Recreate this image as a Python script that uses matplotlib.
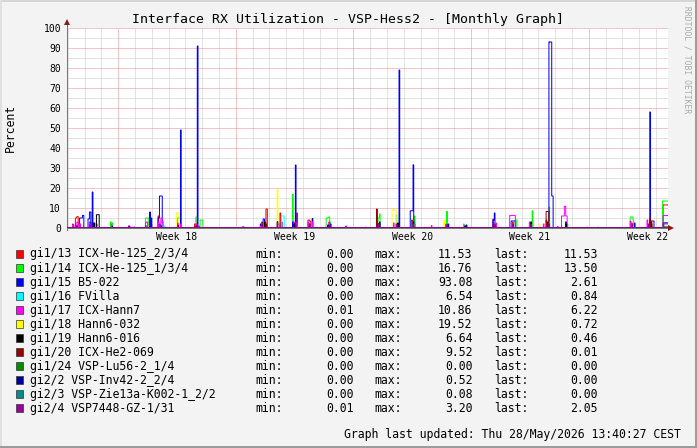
import numpy as np
import matplotlib
matplotlib.use('Agg')
import matplotlib.pyplot as plt
from matplotlib.patches import Rectangle
from matplotlib.lines import Line2D

# ---------------- data ----------------
title = "Interface RX Utilization - VSP-Hess2 - [Monthly Graph]"
y_label = "Percent"
updated = "Graph last updated: Thu 28/May/2026 13:40:27 CEST"

t_end_h = 858            # graph span in hours
step_h = 1               # sample step (hours)
week_start_h = [73, 241, 409, 577, 745]
week_labels = ["Week 18", "Week 19", "Week 20", "Week 21", "Week 22"]
day_lines_h = [1 + 24 * k for k in range(36)]
y_major = list(range(0, 101, 10))
y_minor = list(range(5, 100, 10))

names = ["gi1/13 ICX-He-125_2/3/4", "gi1/14 ICX-He-125_1/3/4", "gi1/15 B5-022",
         "gi1/16 FVilla", "gi1/17 ICX-Hann7", "gi1/18 Hann6-032", "gi1/19 Hann6-016",
         "gi1/20 ICX-He2-069", "gi1/24 VSP-Lu56-2_1/4", "gi2/2 VSP-Inv42-2_2/4",
         "gi2/3 VSP-Zie13a-K002-1_2/2", "gi2/4 VSP7448-GZ-1/31"]
colors = ["#FF0000", "#00FF00", "#0000FF", "#00FFFF", "#FF00FF", "#FFFF00",
          "#000000", "#960000", "#008C00", "#000096", "#008C8C", "#960096"]
min_vals = [0.00, 0.00, 0.00, 0.00, 0.01, 0.00, 0.00, 0.00, 0.00, 0.00, 0.00, 0.01]
max_vals = [11.53, 16.76, 93.08, 6.54, 10.86, 19.52, 6.64, 9.52, 0.00, 0.52, 0.08, 3.20]
last_vals = [11.53, 13.50, 2.61, 0.84, 6.22, 0.72, 0.46, 0.01, 0.00, 0.00, 0.00, 2.05]

# samples that differ from the baseline: hour and value
red_h = [8, 12, 13, 14, 15, 18, 32, 33, 36, 42, 62, 63, 64, 118, 119, 120, 130, 182, 183,
         184, 185, 278, 284, 285, 304, 328, 344, 345, 346, 347, 374, 446, 470, 492, 496,
         542, 566, 608, 636, 662, 684, 712, 806, 834, 851, 852, 853, 854, 855, 856, 857]
red_v = [2, 5, 5, 5.7, 5.7, 2, 3, 3, 2.5, 2, 2, 2, 1, 3, 3, 2, 6, 2, 2,
         2, 2, 3, 9.5, 9.5, 7.5, 7.5, 4, 4, 3.5, 3.5, 3, 3, 2, 4, 2,
         2.5, 1.5, 4.5, 3, 3, 4, 3, 2.5, 3, 11.53, 11.53, 11.53, 11.53, 11.53, 11.53, 11.53]

green_h = [14, 38, 62, 63, 64, 112, 113, 114, 115, 118, 136, 158, 159, 160, 161, 184, 185,
           190, 191, 192, 193, 300, 322, 370, 371, 372, 373, 374, 375, 426, 444, 445, 446,
           496, 542, 566, 612, 640, 641, 664, 688, 714, 804, 805, 806, 807, 808,
           850, 851, 852, 853, 854, 855, 856, 857]
green_v = [1, 2, 3, 3, 2.5, 5, 5, 5, 5, 3, 3.5, 5, 5, 5, 5, 5.5, 5.5,
           4, 4, 4, 4, 3, 16.76, 5, 5, 5, 5.5, 5.5, 3, 0.5, 5, 5, 7,
           6, 8.3, 2, 2, 4, 4, 8.6, 10.5, 2, 5.5, 5.5, 5.5, 5.5, 4,
           13.5, 13.5, 13.5, 13.5, 13.5, 13.5, 13.5, 13.5]

blue_h = [18, 19, 20, 21, 22, 23, 30, 31, 32, 33, 36, 38, 64, 118, 120, 130, 131, 132, 133,
          134, 135, 162, 186, 276, 280, 281, 306, 322, 326, 350, 376, 398, 446, 474, 490,
          491, 492, 493, 494, 544, 570, 608, 609, 610, 634, 635, 636, 637, 638, 639, 662,
          688, 689, 690, 691, 692, 693, 712, 810, 832, 834, 835, 836, 837,
          851, 852, 853, 854, 855, 856, 857]
blue_v = [5, 5, 5, 5, 6.3, 6.3, 4.5, 4.5, 8, 8, 18, 2, 1, 8, 5, 5, 5, 16, 16,
          16, 16, 49, 91, 2, 4.5, 4.5, 3, 3, 31.5, 4.7, 2, 0.5, 3, 79, 8.6,
          8.6, 8.6, 8.6, 31.6, 2, 1.5, 4, 4, 7.5, 3.5, 3.5, 3.5, 3.5, 3.5, 3.5, 3,
          93.08, 93, 93, 93, 16, 16, 3, 2.5, 58, 3.5, 3.5, 3.5, 3.5,
          2.61, 2.61, 2.61, 2.61, 2.61, 2.61, 2.61]

cyan_h = [14, 42, 136, 137, 138, 160, 306, 307, 308, 309, 326, 346, 470, 494, 542, 612,
          662, 688, 742, 758, 852, 853, 854, 855, 856, 857]
cyan_v = [1, 1, 2, 2, 1, 2, 6, 6, 6, 6, 1, 1, 6.54, 2, 1, 1,
          1, 3, 0.5, 0.5, 0.84, 0.84, 0.84, 0.84, 0.84, 0.84]

magenta_h = [8, 9, 14, 15, 18, 32, 38, 39, 88, 89, 96, 112, 113, 114, 130, 134, 135, 136,
             158, 162, 184, 188, 276, 282, 300, 301, 302, 324, 328, 344, 350, 374, 398, 444,
             466, 492, 520, 540, 568, 612, 632, 633, 634, 635, 636, 637, 638, 639, 660, 680,
             700, 706, 707, 708, 709, 710, 711, 712, 713, 804, 828,
             851, 852, 853, 854, 855, 856, 857]
magenta_v = [1.5, 1.5, 3, 3, 2, 2, 2.5, 2.5, 1, 1, 0.5, 2.5, 3, 3, 3, 5, 5, 3,
             2.5, 2, 2, 1, 1, 2.5, 2, 2, 2, 3, 2.5, 3, 3, 3, 1, 2,
             2.5, 3, 1.2, 2, 1, 2.5, 6.3, 6.3, 6.3, 6.3, 6.3, 6.3, 6.3, 6.3, 3, 2,
             0.8, 6, 6, 6, 6, 10.86, 10.86, 6, 6, 3.5, 4,
             6.22, 6.22, 6.22, 6.22, 6.22, 6.22, 6.22]

yellow_h = [156, 157, 158, 159, 300, 346, 464, 465, 466, 467, 468, 469, 494, 538, 636, 674,
            686, 852, 853, 854, 855, 856, 857]
yellow_v = [7.5, 7.5, 7.5, 7.5, 19.52, 2, 9, 9, 9, 9, 9, 9, 2, 4, 2, 2,
            2, 0.72, 0.72, 0.72, 0.72, 0.72, 0.72]

black_h = [14, 38, 42, 43, 44, 45, 134, 184, 282, 324, 346, 372, 444, 472, 494, 542, 568,
           610, 636, 662, 686, 712, 806, 834, 852, 853, 854, 855, 856, 857]
black_v = [1, 2.5, 6.64, 6.64, 6.64, 6.64, 1, 1, 3, 2, 2, 1.5, 2, 2.5, 3, 1.5, 1,
           1.5, 2, 2.5, 3, 2, 1.5, 2, 0.46, 0.46, 0.46, 0.46, 0.46, 0.46]

darkred_h = [284, 442, 684, 685, 686, 687, 832, 857]
darkred_v = [2, 9.52, 8.3, 8.3, 8.3, 8.3, 5, 0.01]

dkgreen_h = [857]
dkgreen_v = [0.0]

navy_h = [250, 251, 252, 398]
navy_v = [0.5, 0.52, 0.5, 0.4]

teal_h = [470, 742]
teal_v = [0.08, 0.05]

purple_h = [14, 32, 88, 112, 132, 158, 186, 300, 326, 346, 374, 444, 470, 494, 542, 610,
            636, 662, 688, 806, 830, 852, 853, 854, 855, 856, 857]
purple_v = [1, 1.5, 1, 1.2, 2, 1.5, 1, 3.2, 2, 2, 1.5, 2, 2, 2, 1.5, 2,
            2, 2, 2, 1.5, 2, 2.05, 2.05, 2.05, 2.05, 2.05, 2.05]

baselines = [0, 0, 0, 0, 0.05, 0, 0, 0, 0, 0, 0, 0.2]

series_h = [red_h, green_h, blue_h, cyan_h, magenta_h, yellow_h, black_h, darkred_h,
            dkgreen_h, navy_h, teal_h, purple_h]
series_v = [red_v, green_v, blue_v, cyan_v, magenta_v, yellow_v, black_v, darkred_v,
            dkgreen_v, navy_v, teal_v, purple_v]

# ---------------- figure ----------------
W, H = 697, 448
MONO = "DejaVu Sans Mono"
plt.rcParams['font.family'] = [MONO]


def fx(px):
    return px / W


def fy(py):
    return 1 - py / H


fig = plt.figure(figsize=(W / 100, H / 100), dpi=100)
fig.patch.set_facecolor("#F3F3F3")

left, right, top, bottom = 67, 668, 28, 228
ax = fig.add_axes([fx(left), fy(bottom), (right - left) / W, (bottom - top) / H])
ax.set_facecolor("white")
ax.set_xlim(0, t_end_h)
ax.set_ylim(0, 100)
for s in ax.spines.values():
    s.set_visible(False)

px_lw = 72 / 100  # one pixel in points

# grid (1px dotted lines)
gkw = dict(lw=px_lw, ls=(0, (1, 1)), antialiased=True)
major_set = set(week_start_h)
for h in day_lines_h:
    if h not in major_set and h < t_end_h:
        ax.axvline(h, color="#C8C8C8", zorder=1, **gkw)
for v in y_minor:
    ax.axhline(v, color="#C8C8C8", zorder=1, **gkw)
for h in week_start_h:
    ax.axvline(h, color="#E08C8C", zorder=1.5, **gkw)
for v in y_major[1:]:
    ax.axhline(v, color="#E08C8C", zorder=1.5, **gkw)

# axes lines with arrows
ax.plot([0, 0], [-1, 102.2], color="#777777", lw=px_lw, clip_on=False, zorder=2)
ax.plot([0, t_end_h + 3], [0, 0], color="#777777", lw=px_lw, clip_on=False, zorder=2)
ax.plot([0], [102.8], marker="^", ms=4.5, color="#8B1A1A", clip_on=False, zorder=6,
        markeredgewidth=0)
ax.plot([t_end_h + 4.5], [0], marker=">", ms=4.5, color="#8B1A1A", clip_on=False,
        zorder=6, markeredgewidth=0)

# data
edges = np.arange(0, t_end_h + step_h, step_h)
n = len(edges) - 1
for i, (hs, vs) in enumerate(zip(series_h, series_v)):
    vals = np.full(n, float(baselines[i]))
    for h, v in zip(hs, vs):
        idx = int(h // step_h)
        if 0 <= idx < n:
            vals[idx] = v
    ax.stairs(vals, edges, baseline=None, color=colors[i], lw=px_lw, zorder=3 + i * 0.01)

# ticks
ax.set_yticks(y_major)
ax.set_yticklabels([str(v) for v in y_major])
ax.set_xticks([h + 84 for h in week_start_h])
ax.set_xticklabels(week_labels)
ax.tick_params(axis="both", length=0, labelsize=7, colors="#000000")
ax.tick_params(axis="y", pad=4.3)
ax.tick_params(axis="x", pad=2.6)
for lab in ax.get_xticklabels() + ax.get_yticklabels():
    lab.set_family(MONO)

# title and labels
fig.text(fx(347.5), fy(19), title, ha="center", va="center", fontsize=9.5, family=MONO)
fig.text(fx(10.5), fy(127.5), y_label, ha="center", va="center", rotation=90,
         fontsize=8.3, family=MONO)
fig.text(fx(687), fy(60), "RRDTOOL / TOBI OETIKER", ha="center", va="center",
         rotation=270, fontsize=5.8, family=MONO, color="#AAAAAA")

# legend
for i in range(len(names)):
    y = 254 + i * 14.03
    fig.add_artist(Rectangle((fx(15.5), fy(y + 4)), 7.5 / W, 8 / H, transform=fig.transFigure,
                             facecolor=colors[i], edgecolor="#333333", lw=0.5))
    kw = dict(va="center", fontsize=8.3, family=MONO, color="#000000")
    fig.text(fx(30), fy(y), names[i], ha="left", **kw)
    fig.text(fx(255.5), fy(y), "min:", ha="left", **kw)
    fig.text(fx(353.5), fy(y), f"{min_vals[i]:.2f}", ha="right", **kw)
    fig.text(fx(374.5), fy(y), "max:", ha="left", **kw)
    fig.text(fx(472.5), fy(y), f"{max_vals[i]:.2f}", ha="right", **kw)
    fig.text(fx(494.5), fy(y), "last:", ha="left", **kw)
    fig.text(fx(598), fy(y), f"{last_vals[i]:.2f}", ha="right", **kw)

fig.text(fx(680.5), fy(434), updated, ha="right", va="center", fontsize=8.3, family=MONO)

# 3D-ish frame
fig.add_artist(Line2D([0, 1], [fy(0.7), fy(0.7)], transform=fig.transFigure,
                      color="#D6D6D6", lw=1.4))
fig.add_artist(Line2D([fx(0.7), fx(0.7)], [0, 1], transform=fig.transFigure,
                      color="#E0E0E0", lw=1.4))
fig.add_artist(Line2D([fx(696.3), fx(696.3)], [0, 1], transform=fig.transFigure,
                      color="#9A9A9A", lw=1.4))
fig.add_artist(Line2D([0, 1], [fy(447.3), fy(447.3)], transform=fig.transFigure,
                      color="#9A9A9A", lw=1.4))

fig.savefig("out.png", dpi=100, facecolor=fig.get_facecolor())
